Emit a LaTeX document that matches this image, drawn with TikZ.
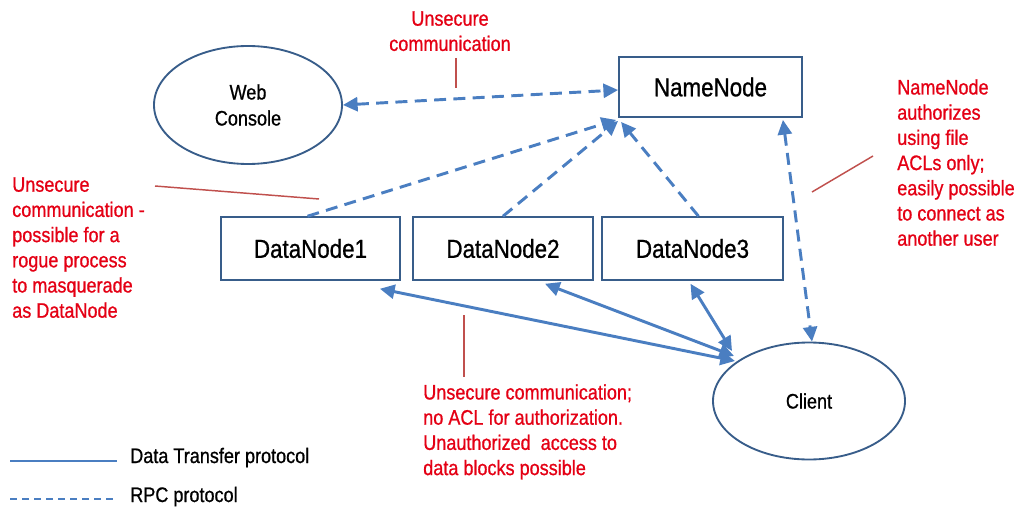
\documentclass[tikz,border=0pt]{standalone}
\usepackage{fontspec}
\setmainfont{Liberation Sans}[FakeStretch=0.86,FakeBold=0.8]
\usetikzlibrary{arrows.meta,calc,shapes.geometric}
\definecolor{lineblue}{RGB}{74,126,193}
\definecolor{edgeblue}{RGB}{56,93,138}
\definecolor{notered}{RGB}{228,0,20}
\definecolor{pointer}{RGB}{192,80,77}
\begin{document}
\begin{tikzpicture}[x=0.75pt,y=-0.75pt,
  box/.style={draw=edgeblue,line width=1.4pt,rectangle,inner sep=0pt,
    minimum height=47pt,font=\fontsize{19.5}{23}\selectfont},
  oval/.style={draw=edgeblue,line width=1.4pt,ellipse,inner sep=0pt,align=center,
    font=\fontsize{15.75}{19.5}\selectfont},
  rpc/.style={draw=lineblue,line width=2.2pt,dash pattern=on 9pt off 5.5pt},
  dtp/.style={draw=lineblue,line width=2.2pt},
  tipE/.style={-{Triangle[length=11pt,width=10.5pt]}},
  tipB/.style={{Triangle[length=11pt,width=10.5pt]}-{Triangle[length=11pt,width=10.5pt]}},
  note/.style={text=notered,inner sep=0pt,font=\fontsize{15.75}{18.9}\selectfont},
  pointerline/.style={draw=pointer,line width=1.1pt},
  legendtext/.style={inner sep=0pt,font=\fontsize{15.75}{18.9}\selectfont}
]
\useasboundingbox (0,0) rectangle (1019,509);

% nodes
\node[oval,minimum width=141pt,minimum height=88.5pt] (web) at (248,105) {Web\\Console};
\node[box,minimum width=137.25pt,minimum height=45pt] (nn) at (710.5,87) {NameNode};
\node[box,minimum width=134.25pt] (dn1) at (310.5,248.5) {DataNode1};
\node[box,minimum width=135pt] (dn2) at (503,248.5) {DataNode2};
\node[box,minimum width=135.75pt] (dn3) at (692.5,248.5) {DataNode3};
\node[oval,minimum width=144pt,minimum height=87.75pt] (client) at (809,401) {Client};

% RPC connectors
\draw[rpc,tipB] (web.east) -- ($(nn.west)+(0,3)$);
\draw[rpc,tipE] ($(dn1.north)+(-3,0)$) -- ($(nn.south west)+(-2,2)$);
\draw[rpc,tipE] (dn2.north) -- ($(nn.south west)+(0,3)$);
\draw[rpc,tipE] ($(dn3.north)+(6,0)$) -- ($(nn.south west)+(3,4)$);
\draw[rpc,tipB] ($(nn.south east)+(-20,2)$) -- ($(client.north)+(3,0)$);

% Data transfer connectors
\draw[dtp,tipB] ($(client.center)+(-77,-50)$) -- ($(dn3.south)+(-2,3)$);
\draw[dtp,tipB] ($(client.center)+(-75,-45)$) -- ($(dn2.south)+(42,3)$);
\draw[dtp,tipB] ($(client.center)+(-74,-40)$) -- ($(dn1.south east)+(-21,8)$);

% annotations
\node[note,align=center,anchor=north] (n1) at (450,11) {Unsecure\\communication};
\node[note,align=left,anchor=north west] (n2) at (12,177) {Unsecure\\communication -\\possible for a\\rogue process\\to masquerade\\as DataNode};
\node[note,align=left,anchor=north west] (n3) at (897,79) {NameNode\\authorizes\\using file\\ACLs only;\\easily possible\\to connect as\\another user};
\node[note,align=left,anchor=north west] (n4) at (423,384) {Unsecure communication;\\no ACL for authorization.\\Unauthorized\ \ access to\\data blocks possible};

\draw[pointerline] (456,58) -- (456,88);
\draw[pointerline] (155,186) -- (319,199);
\draw[pointerline] (873,156) -- (812,192);
\draw[pointerline] (464,315) -- (464,377);

% legend
\draw[draw=lineblue,line width=1.1pt] (10,461) -- (117,461);
\node[legendtext,anchor=base west] (l1) at (130,463) {Data Transfer protocol};
\draw[draw=lineblue,line width=1.1pt,dash pattern=on 5pt off 4pt] (10,499) -- (117,499);
\node[legendtext,anchor=base west] (l2) at (130,502) {RPC protocol};
\end{tikzpicture}
\end{document}
